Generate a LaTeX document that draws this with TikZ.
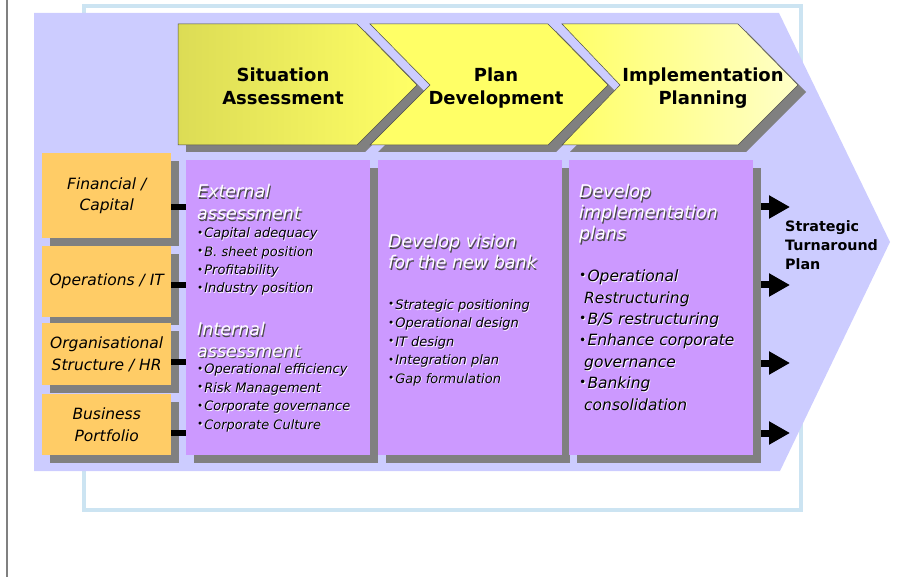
\documentclass[tikz,border=0pt]{standalone}
\usepackage{fontspec}
\setmainfont{DejaVu Sans}
\usetikzlibrary{arrows.meta, shadows}

\definecolor{lavbg}{HTML}{CCCCFF}
\definecolor{boxpurple}{HTML}{CC99FF}
\definecolor{boxorange}{HTML}{FFCC66}
\definecolor{chevdark}{HTML}{DCDC55}
\definecolor{chevmid}{HTML}{FFFF66}
\definecolor{chevlight}{HTML}{FFFFC8}
\definecolor{frameblue}{HTML}{CCE4F2}
\definecolor{shadowgray}{HTML}{808080}

% white heading text with a dark shadow, black bullet text with a light one
\newcommand{\hdl}[1]{\leavevmode\rlap{\kern1.1pt\raisebox{-1.1pt}{\textcolor{black!70}{#1}}}\textcolor{white}{#1}}
\newcommand{\bll}[1]{\leavevmode\rlap{\kern0.8pt\raisebox{-0.8pt}{\textcolor{white}{#1}}}#1}
\newcommand{\bdot}{\raisebox{0.2ex}{\scalebox{0.8}{\textbullet}}\kern1pt}

\begin{document}
\begin{tikzpicture}[x=1pt, y=-1pt,
    dropsh/.style={drop shadow={shadow xshift=8pt, shadow yshift=-8pt, fill=shadowgray, opacity=1}},
    chev/.style={draw=black!70, line width=0.5pt,
      drop shadow={shadow xshift=8pt, shadow yshift=-7pt, fill=shadowgray, opacity=1}},
    chevtext/.style={anchor=base, align=center, inner sep=0pt, font=\bfseries\fontsize{18}{23}\selectfont},
    orbox/.style={fill=boxorange, anchor=north west, minimum width=129pt, inner sep=1pt,
      align=center, font=\itshape\fontsize{15.5}{21.5}\selectfont, dropsh},
    pubox/.style={fill=boxpurple, anchor=north west, minimum width=184pt, minimum height=295pt, dropsh},
    hdtext/.style={anchor=base west, align=left, inner sep=0pt, font=\itshape\fontsize{17.5}{22}\selectfont},
    bltext/.style={anchor=base west, align=left, inner sep=0pt, font=\itshape\fontsize{13}{18.4}\selectfont},
    bigbl/.style={bltext, font=\itshape\fontsize{15.5}{21.4}\selectfont},
    link/.style={line width=6pt},
    outarrow/.style={line width=7pt, shorten <=8pt, -{Triangle[length=21pt, width=22pt]}}]

    \useasboundingbox (0,0) rectangle (897,577);

    % frame and background
    \draw[shadowgray, line width=1.5pt] (7,0) -- (7,577);
    \draw[frameblue, line width=4pt] (84,6) rectangle (801,510);
    \fill[lavbg] (34,13) -- (779,13) -- (890,242) -- (780,471) -- (34,471) -- cycle;

    % phase chevrons
    \draw[chev, left color=chevdark, right color=chevmid]
        (178,24) -- (357,24) -- (417,85) -- (357,145) -- (178,145) -- cycle;
    \draw[chev, fill=chevmid]
        (370,24) -- (548,24) -- (608,85) -- (548,145) -- (370,145) -- (430,85) -- cycle;
    \draw[chev, left color=chevmid, right color=chevlight]
        (562,24) -- (738,24) -- (798,85) -- (738,145) -- (562,145) -- (620,85) -- cycle;

    % (base of a multi-line node = last line)
    \node[chevtext] (sit) at (283,105) {Situation\\Assessment};
    \node[chevtext] (pdev) at (496,105) {Plan\\Development};
    \node[chevtext] (ipl) at (703,105) {Implementation\\Planning};

    % areas
    \node[orbox, minimum height=85pt] (fin) at (42,153) {Financial /\\Capital};
    \node[orbox, minimum height=71pt] (ops) at (42,246) {Operations / IT};
    \node[orbox, minimum height=62pt] (org) at (42,323) {Organisational\\Structure / HR};
    \node[orbox, minimum height=61pt] (bus) at (42,394) {Business\\Portfolio};

    % work boxes
    \node[pubox] (assess) at (186,160) {};
    \node[pubox] (vision) at (378,160) {};
    \node[pubox] (implan) at (569,160) {};

    \draw[link] (fin.east |- 0,207) -- (assess.west |- 0,207);
    \draw[link] (ops.east |- 0,285) -- (assess.west |- 0,285);
    \draw[link] (org.east |- 0,362) -- (assess.west |- 0,362);
    \draw[link] (bus.east |- 0,433) -- (assess.west |- 0,433);

    \node[hdtext] (exthd) at (197,220) {\hdl{External}\\\hdl{assessment}};
    \node[bltext] (extbl) at (197,293) {\bll{\bdot Capital adequacy}\\\bll{\bdot B. sheet position}\\
        \bll{\bdot Profitability}\\\bll{\bdot Industry position}};
    \node[hdtext, font=\itshape\fontsize{17.5}{21}\selectfont] (inthd) at (197,357)
        {\hdl{Internal}\\\hdl{assessment}};
    \node[bltext] (intbl) at (197,429) {\bll{\bdot Operational efficiency}\\\bll{\bdot Risk Management}\\
        \bll{\bdot Corporate governance}\\\bll{\bdot Corporate Culture}};

    \node[hdtext, font=\itshape\fontsize{17.5}{21}\selectfont] (vishd) at (388,269)
        {\hdl{Develop vision}\\\hdl{for the new bank}};
    \node[bltext] (visbl) at (388,383) {\bll{\bdot Strategic positioning}\\\bll{\bdot Operational design}\\
        \bll{\bdot IT design}\\\bll{\bdot Integration plan}\\\bll{\bdot Gap formulation}};

    \node[hdtext, font=\itshape\fontsize{17.5}{21}\selectfont] (imphd) at (579,240)
        {\hdl{Develop}\\\hdl{implementation}\\\hdl{plans}};
    \node[bigbl] (impbl) at (579,410) {\bll{\bdot Operational}\\\bll{\kern5pt Restructuring}\\
        \bll{\bdot B/S restructuring}\\\bll{\bdot Enhance corporate}\\\bll{\kern5pt governance}\\
        \bll{\bdot Banking}\\\bll{\kern5pt consolidation}};

    % outputs
    \coordinate (t1) at (790,207);
    \coordinate (t2) at (790,285);
    \coordinate (t3) at (790,363);
    \coordinate (t4) at (790,433);
    \foreach \t in {t1,t2,t3,t4}
        \draw[outarrow] (implan.east |- \t) -- (\t);

    \node[anchor=base west, align=left, inner sep=0pt, font=\bfseries\fontsize{14.3}{19}\selectfont]
        (stp) at (785,270) {Strategic\\Turnaround\\Plan};
\end{tikzpicture}
\end{document}
